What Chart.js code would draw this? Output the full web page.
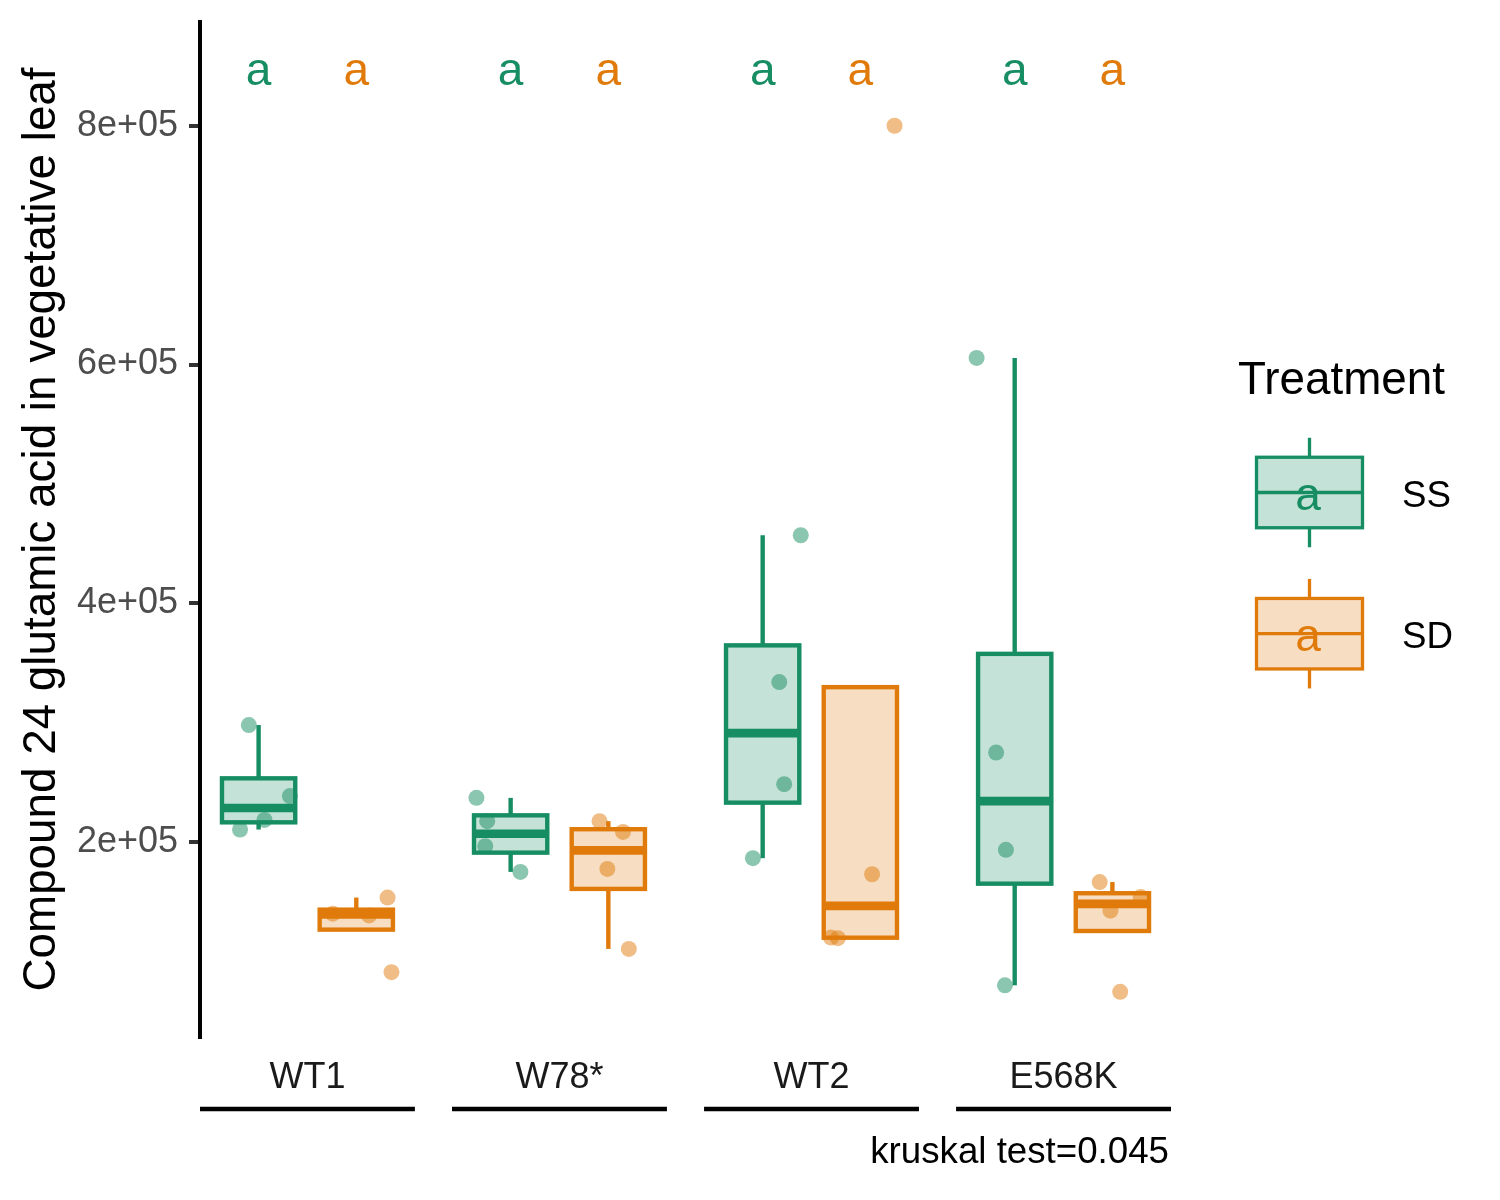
<!DOCTYPE html>
<html>
<head>
<meta charset="utf-8">
<script src="https://cdn.jsdelivr.net/npm/chart.js@4.4.1/dist/chart.umd.min.js"></script>
<style>
  html, body { margin: 0; padding: 0; background: #fff; }
  #wrap { width: 1500px; height: 1200px; }
</style>
</head>
<body>
<div id="wrap"><canvas id="myChart"></canvas></div>
<script>
const genotypes = ["WT1", "W78*", "WT2", "E568K"];
const treatments = ["SS", "SD"];

// raw values per genotype, 4 plants each
const ssValues = [
  [298000, 238500, 218500, 210500],
  [237000, 217500, 196500, 175000],
  [457000, 334000, 248500, 186500],
  [605500, 275000, 193500, 80000]
];
const sdValues = [
  [153500, 140000, 138500, 91000],
  [217500, 208500, 177500, 110500],
  [800000, 173000, 120000, 119500],
  [166500, 154000, 142500, 74500]
];
// horizontal jitter of each point
const ssJitter = [
  [-0.10, 0.32, 0.06, -0.19],
  [-0.35, -0.24, -0.26, 0.10],
  [0.39, 0.17, 0.22, -0.10],
  [-0.39, -0.19, -0.09, -0.10]
];
const sdJitter = [
  [0.32, -0.24, 0.13, 0.36],
  [-0.09, 0.15, -0.01, 0.21],
  [0.35, 0.12, -0.30, -0.23],
  [-0.13, 0.29, -0.02, 0.08]
];
const ssLetters = ["a", "a", "a", "a"];
const sdLetters = ["a", "a", "a", "a"];
const yTickValues = [200000, 400000, 600000, 800000];
const yTickLabels = ["2e+05", "4e+05", "6e+05", "8e+05"];
const yTitle = "Compound 24 glutamic acid in vegetative leaf";
const caption = "kruskal test=0.045";

const FONT = '"Liberation Sans", Arial, Helvetica, sans-serif';
const colors = ["#178D63", "#E07B0B"];
const fills = ["rgba(23,141,99,0.25)", "rgba(224,123,11,0.25)"];
const dots = ["rgba(23,141,99,0.5)", "rgba(224,123,11,0.5)"];

// facet layout in x units (one unit = distance between SS and SD)
const FACET = 2.2, GAP = 0.38, BOX_W = 0.75;
const xMax = genotypes.length * FACET + (genotypes.length - 1) * GAP;
const facetStart = g => g * (FACET + GAP);
const slotX = (g, t) => facetStart(g) + 0.6 + t;
const letterY = 834000;

function quantile(s, p) {
  const h = (s.length - 1) * p, lo = Math.floor(h);
  if (lo + 1 >= s.length) return s[lo];
  return s[lo] + (h - lo) * (s[lo + 1] - s[lo]);
}

function boxStats(vals) {
  const s = vals.slice().sort((a, b) => a - b);
  const q1 = quantile(s, 0.25), med = quantile(s, 0.5), q3 = quantile(s, 0.75);
  const iqr = q3 - q1;
  const inside = s.filter(v => v >= q1 - 1.5 * iqr && v <= q3 + 1.5 * iqr);
  return {
    q1, med, q3,
    lo: Math.min(q1, ...inside),
    hi: Math.max(q3, ...inside)
  };
}

function points(series, jitter, t) {
  const out = [];
  series.forEach((vals, g) => {
    vals.forEach((v, i) => out.push({ x: slotX(g, t) + jitter[g][i], y: v }));
  });
  return out;
}

function line(ctx, x1, y1, x2, y2) {
  ctx.beginPath();
  ctx.moveTo(x1, y1);
  ctx.lineTo(x2, y2);
  ctx.stroke();
}

const boxPlugin = {
  id: "boxes",
  beforeDatasetsDraw(chart) {
    const { ctx, scales: { x, y } } = chart;
    ctx.save();
    ctx.lineCap = "butt";
    [ssValues, sdValues].forEach((series, t) => {
      series.forEach((vals, g) => {
        const st = boxStats(vals);
        const xc = x.getPixelForValue(slotX(g, t));
        const hw = x.getPixelForValue(slotX(g, t) + BOX_W / 2) - xc;
        const y1 = y.getPixelForValue(st.q1), y3 = y.getPixelForValue(st.q3);
        ctx.strokeStyle = colors[t];
        ctx.lineWidth = 4.4;
        line(ctx, xc, y3, xc, y.getPixelForValue(st.hi));
        line(ctx, xc, y1, xc, y.getPixelForValue(st.lo));
        ctx.fillStyle = fills[t];
        ctx.fillRect(xc - hw, y3, 2 * hw, y1 - y3);
        ctx.strokeRect(xc - hw, y3, 2 * hw, y1 - y3);
        ctx.lineWidth = 8.6;
        const ym = y.getPixelForValue(st.med);
        line(ctx, xc - hw, ym, xc + hw, ym);
      });
    });
    ctx.restore();
  }
};

const decorPlugin = {
  id: "decor",
  afterDraw(chart) {
    const { ctx, chartArea, scales: { x, y } } = chart;
    ctx.save();

    // group letters above the boxes
    ctx.font = "46px " + FONT;
    ctx.textAlign = "center";
    ctx.textBaseline = "alphabetic";
    [ssLetters, sdLetters].forEach((letters, t) => {
      ctx.fillStyle = colors[t];
      letters.forEach((l, g) => {
        ctx.fillText(l, x.getPixelForValue(slotX(g, t)), y.getPixelForValue(letterY));
      });
    });

    // strip lines under the genotype labels
    ctx.strokeStyle = "#000";
    ctx.lineWidth = 4.4;
    genotypes.forEach((_, g) => {
      const yy = chartArea.bottom + 72;
      line(ctx, x.getPixelForValue(facetStart(g)), yy, x.getPixelForValue(facetStart(g) + FACET), yy);
    });

    // caption
    ctx.fillStyle = "#000";
    ctx.font = "36.7px " + FONT;
    ctx.textAlign = "right";
    ctx.fillText(caption, chartArea.right - 2, 1163);

    // legend
    const lx = 1309.5, keyW = 106, keyH = 70.5, whisk = 19.5;
    ctx.textAlign = "left";
    ctx.font = "45.8px " + FONT;
    ctx.fillText("Treatment", 1238, 394);
    treatments.forEach((name, t) => {
      const cy = 492.5 + t * 141.2;
      ctx.strokeStyle = colors[t];
      ctx.lineWidth = 3.3;
      line(ctx, lx, cy - keyH / 2 - whisk, lx, cy - keyH / 2);
      line(ctx, lx, cy + keyH / 2, lx, cy + keyH / 2 + whisk);
      ctx.fillStyle = fills[t];
      ctx.fillRect(lx - keyW / 2, cy - keyH / 2, keyW, keyH);
      ctx.strokeRect(lx - keyW / 2, cy - keyH / 2, keyW, keyH);
      line(ctx, lx - keyW / 2, cy, lx + keyW / 2, cy);
      ctx.fillStyle = colors[t];
      ctx.font = "46px " + FONT;
      ctx.textAlign = "center";
      ctx.fillText("a", lx - 1.5, cy + 17);
      ctx.fillStyle = "#000";
      ctx.font = "36.7px " + FONT;
      ctx.textAlign = "left";
      ctx.fillText(name, 1402, cy + 14);
    });
    ctx.restore();
  }
};

const ctx = document.getElementById("myChart");

new Chart(ctx, {
  type: "scatter",
  data: {
    datasets: [
      {
        label: treatments[0],
        data: points(ssValues, ssJitter, 0),
        backgroundColor: dots[0],
        borderWidth: 0,
        pointRadius: 8,
        pointHoverRadius: 8
      },
      {
        label: treatments[1],
        data: points(sdValues, sdJitter, 1),
        backgroundColor: dots[1],
        borderWidth: 0,
        pointRadius: 8,
        pointHoverRadius: 8
      }
    ]
  },
  options: {
    responsive: true,
    maintainAspectRatio: false,
    animation: false,
    events: [],
    layout: { padding: { left: 0, top: 22, right: 329, bottom: 0 } },
    plugins: {
      legend: { display: false },
      tooltip: { enabled: false }
    },
    scales: {
      x: {
        type: "linear",
        min: 0,
        max: xMax,
        grid: { display: false, drawTicks: false },
        border: { display: false },
        afterBuildTicks: s => { s.ticks = genotypes.map((_, g) => ({ value: facetStart(g) + FACET / 2 })); },
        afterFit: s => { s.height = 163; s.paddingLeft = 0; s.paddingRight = 0; },
        ticks: {
          autoSkip: false,
          maxRotation: 0,
          padding: 19.5,
          color: "#1A1A1A",
          font: { family: FONT, size: 36, lineHeight: 1.2 },
          callback: (v, i) => genotypes[i]
        }
      },
      y: {
        min: 36700,
        max: 886900,
        afterBuildTicks: s => { s.ticks = yTickValues.map(v => ({ value: v })); },
        afterFit: s => { s.width = 200; s.paddingTop = 0; s.paddingBottom = 0; },
        grid: { drawOnChartArea: false, drawTicks: true, tickLength: 11, lineWidth: 4, color: "#333333" },
        border: { display: true, color: "#000000", width: 4 },
        ticks: {
          padding: 11,
          color: "#4D4D4D",
          font: { family: FONT, size: 36, lineHeight: 1.2 },
          callback: (v, i) => yTickLabels[i]
        },
        title: {
          display: true,
          text: yTitle,
          color: "#000000",
          font: { family: FONT, size: 45.8, lineHeight: 1.2 },
          padding: { top: 14.5, bottom: 0 }
        }
      }
    }
  },
  plugins: [boxPlugin, decorPlugin]
});
</script>
</body>
</html>
